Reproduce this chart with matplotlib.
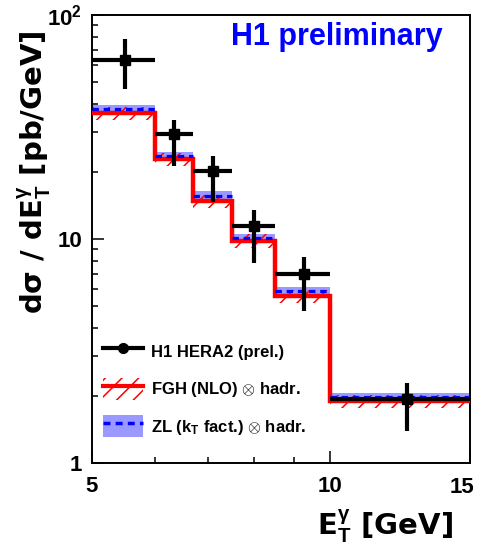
import matplotlib
matplotlib.use('Agg')
import matplotlib.pyplot as plt
import numpy as np
from matplotlib.patches import Patch
from matplotlib.lines import Line2D
from matplotlib.ticker import FixedLocator, NullFormatter, FixedFormatter

plt.rcParams['font.family'] = ['Liberation Sans', 'DejaVu Sans']
plt.rcParams['font.weight'] = 'bold'
plt.rcParams['mathtext.fontset'] = 'custom'
plt.rcParams['mathtext.rm'] = 'Liberation Sans:bold'
plt.rcParams['mathtext.bf'] = 'Liberation Sans:bold'
plt.rcParams['mathtext.it'] = 'Liberation Sans'
plt.rcParams['hatch.linewidth'] = 1.1

# ---- data ----
bin_edges = [5, 6, 6.7, 7.5, 8.5, 10, 15]
data_x = [5.5, 6.35, 7.1, 8.0, 9.25, 12.5]
data_y = [63.0, 29.4, 20.2, 11.4, 6.98, 1.925]
data_err_up = [15.0, 4.6, 3.3, 2.1, 1.30, 0.36]
data_err_down = [16.3, 8.2, 5.5, 3.6, 2.19, 0.54]

fgh = [36.5, 22.8, 14.8, 9.8, 5.57, 1.89]
fgh_hi = [39.0, 24.3, 15.8, 10.5, 5.95, 2.01]
fgh_lo = [34.0, 21.2, 13.8, 9.1, 5.20, 1.76]

zl = [38.0, 23.5, 15.6, 10.1, 5.88, 1.98]
zl_hi = [39.6, 24.5, 16.3, 10.55, 6.12, 2.06]
zl_lo = [36.6, 22.6, 15.0, 9.7, 5.65, 1.91]

x_ticks = [5, 10, 15]
x_ticklabels = ['5', '10', '']
x_last_label = '15'
y_ticks = [1, 10, 100]
y_ticklabels = ['1', '10', r'10$^{\mathbf{2}}$']

edges = np.array(bin_edges)
left = edges[:-1]
width = np.diff(edges)
dx = np.array(data_x)
xerr = [dx - left, edges[1:] - dx]

fig = plt.figure(figsize=(4.78, 5.47), dpi=100)
ax = fig.add_axes([92/478, 1-463/547, (470-92)/478, (463-15)/547])
ax.set_xscale('log')
ax.set_yscale('log')

ax.bar(left, np.array(zl_hi) - np.array(zl_lo), width=width, bottom=zl_lo,
       align='edge', color='#9999ff', lw=0, zorder=1)
ax.bar(left, np.array(fgh_hi) - np.array(fgh_lo), width=width, bottom=fgh_lo,
       align='edge', facecolor='none', edgecolor='red', hatch='//', lw=0, zorder=2)
ax.stairs(fgh, edges, baseline=None, color='red', lw=3.2, zorder=3)
ax.hlines(zl, left, edges[1:], colors='blue', linestyles=(0, (2, 1.5)), lw=2.3, zorder=4)
ax.errorbar(data_x, data_y, xerr=xerr, yerr=[data_err_down, data_err_up], fmt='s',
            color='black', ms=7.5, lw=3, capsize=0, zorder=5)

ax.set_xlim(5, 15)
ax.set_ylim(1, 100)
ax.xaxis.set_major_locator(FixedLocator(x_ticks))
ax.xaxis.set_major_formatter(FixedFormatter(x_ticklabels))
ax.xaxis.set_minor_locator(FixedLocator([6, 7, 8, 9]))
ax.xaxis.set_minor_formatter(NullFormatter())
ax.yaxis.set_major_locator(FixedLocator(y_ticks))
ax.yaxis.set_major_formatter(FixedFormatter(y_ticklabels))
ax.yaxis.set_minor_locator(FixedLocator([2, 3, 4, 5, 6, 7, 8, 9, 20, 30, 40, 50, 60, 70, 80, 90]))
ax.yaxis.set_minor_formatter(NullFormatter())
ax.tick_params(which='both', direction='in', top=False, right=False, width=1.1, labelsize=16)
ax.tick_params(which='major', length=8.5)
ax.tick_params(which='minor', length=4.5)
ax.tick_params(axis='x', pad=9)
ax.tick_params(axis='y', pad=7)
for s in ax.spines.values():
    s.set_linewidth(1.4)

fig.text(462/478, 1-477/547, x_last_label, fontsize=16, ha='center', va='top')

fig.text(231/478, 1-45/547, 'H1 preliminary', color='blue', fontsize=22,
         ha='left', va='baseline')

fig.text(453/478, 1-545/547, r'E$_{\mathbf{T}}^{\gamma}$ [GeV]', fontsize=21,
         family='DejaVu Sans', ha='right', va='bottom')
fig.text(34/478, 1-30/547, r'dσ / dE$_{\mathbf{T}}^{\gamma}$ [pb/GeV]', fontsize=21,
         family='DejaVu Sans', rotation=90, ha='center', va='top')

handles = [
    Line2D([], [], color='black', lw=3, marker='o', ms=7),
    (Patch(facecolor='none', edgecolor='red', hatch='//', lw=0),
     Line2D([], [], color='red', lw=3)),
    (Patch(facecolor='#9999ff', edgecolor='none'),
     Line2D([], [], color='blue', lw=2.5, ls=(0, (2, 1.5)))),
]
labels = ['H1 HERA2 (prel.)', r'FGH (NLO) $\otimes$ hadr.',
          r'ZL (k$_{\mathbf{T}}$ fact.) $\otimes$ hadr.']
fig.legend(handles, labels, loc='upper left', bbox_to_anchor=(103/478, 1-340/547),
           frameon=False, fontsize=12, handlelength=2.4, handleheight=1.7,
           handletextpad=0.5, labelspacing=0.9, borderpad=0, borderaxespad=0)

fig.savefig('out.png', dpi=100)
